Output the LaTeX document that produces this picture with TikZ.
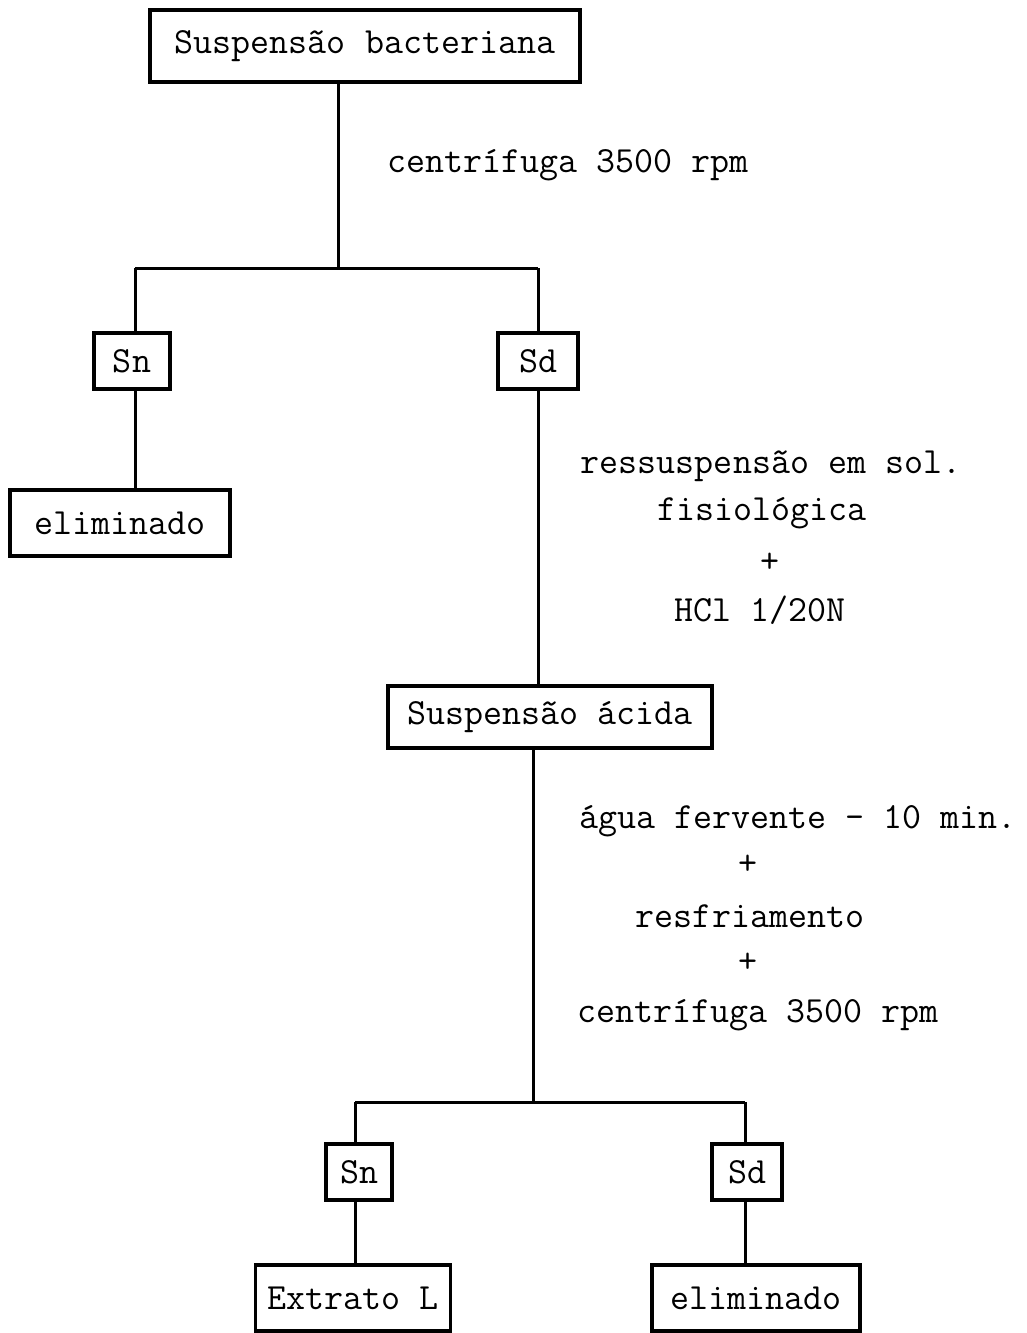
\documentclass[tikz,border=0pt]{standalone}
\usepackage{fontspec}
\begin{document}
\begin{tikzpicture}[x=1pt,y=-1pt,
  every node/.style={font=\fontsize{36.9}{44}\selectfont\ttfamily, inner sep=0pt},
  box/.style={draw, line width=3.5pt, anchor=center},
  conn/.style={line width=3pt},
  lbl/.style={anchor=center, yshift=-3pt}]
\useasboundingbox (0,0) rectangle (1026,1333);
% boxes
\node[box, minimum width=430pt, minimum height=72pt] (b1) at (365,46) {Suspensão bacteriana};
\node[box, minimum width=76pt, minimum height=56pt] (sn1) at (132,361) {Sn};
\node[box, minimum width=80pt, minimum height=56pt] (sd1) at (538,361) {Sd};
\node[box, minimum width=220pt, minimum height=66pt] (el1) at (120,523) {eliminado};
\node[box, minimum width=324pt, minimum height=62pt] (ac) at (550,717) {Suspensão ácida};
\node[box, minimum width=66pt, minimum height=56pt] (sn2) at (359,1172) {Sn};
\node[box, minimum width=70pt, minimum height=56pt] (sd2) at (747,1172) {Sd};
\node[box, minimum width=195pt, minimum height=66pt] (ex) at (353,1298) {Extrato L};
\node[box, minimum width=208pt, minimum height=66pt] (el2) at (756,1298) {eliminado};
% labels
\node[lbl] (t1) at (568,162) {centrífuga 3500 rpm};
\node[lbl] (t2) at (771,463) {ressuspensão em sol.};
\node[lbl] (t3) at (762,510) {fisiológica};
\node[lbl] (t4) at (770,560) {+};
\node[lbl] (t5) at (760,607) {HCl 1/20N};
\node[lbl] (t6) at (798,818) {água fervente - 10 min.};
\node[lbl] (t7) at (748,862) {+};
\node[lbl] (t8) at (750,913) {resfriamento};
\node[lbl] (t9) at (748,960) {+};
\node[lbl] (t10) at (758,1012) {centrífuga 3500 rpm};
% junctions
\coordinate (j1) at (338,268);
\coordinate (j1l) at (135,268);
\coordinate (j1r) at (538,268);
\coordinate (j2) at (533,1102);
\coordinate (j2l) at (355,1102);
\coordinate (j2r) at (745,1102);
% connectors
\draw[conn] (j1 |- b1.south) -- (j1);
\draw[conn] (j1l) -- (j1r);
\draw[conn] (j1l) -- (j1l |- sn1.north);
\draw[conn] (j1r) -- (sd1.north);
\draw[conn] (j1l |- sn1.south) -- (j1l |- el1.north);
\draw[conn] (sd1.south) -- (sd1.south |- ac.north);
\draw[conn] (j2 |- ac.south) -- (j2);
\draw[conn] (j2l) -- (j2r);
\draw[conn] (j2l) -- (j2l |- sn2.north);
\draw[conn] (j2r) -- (j2r |- sd2.north);
\draw[conn] (j2l |- sn2.south) -- (j2l |- ex.north);
\draw[conn] (j2r |- sd2.south) -- (j2r |- el2.north);
\end{tikzpicture}
\end{document}
